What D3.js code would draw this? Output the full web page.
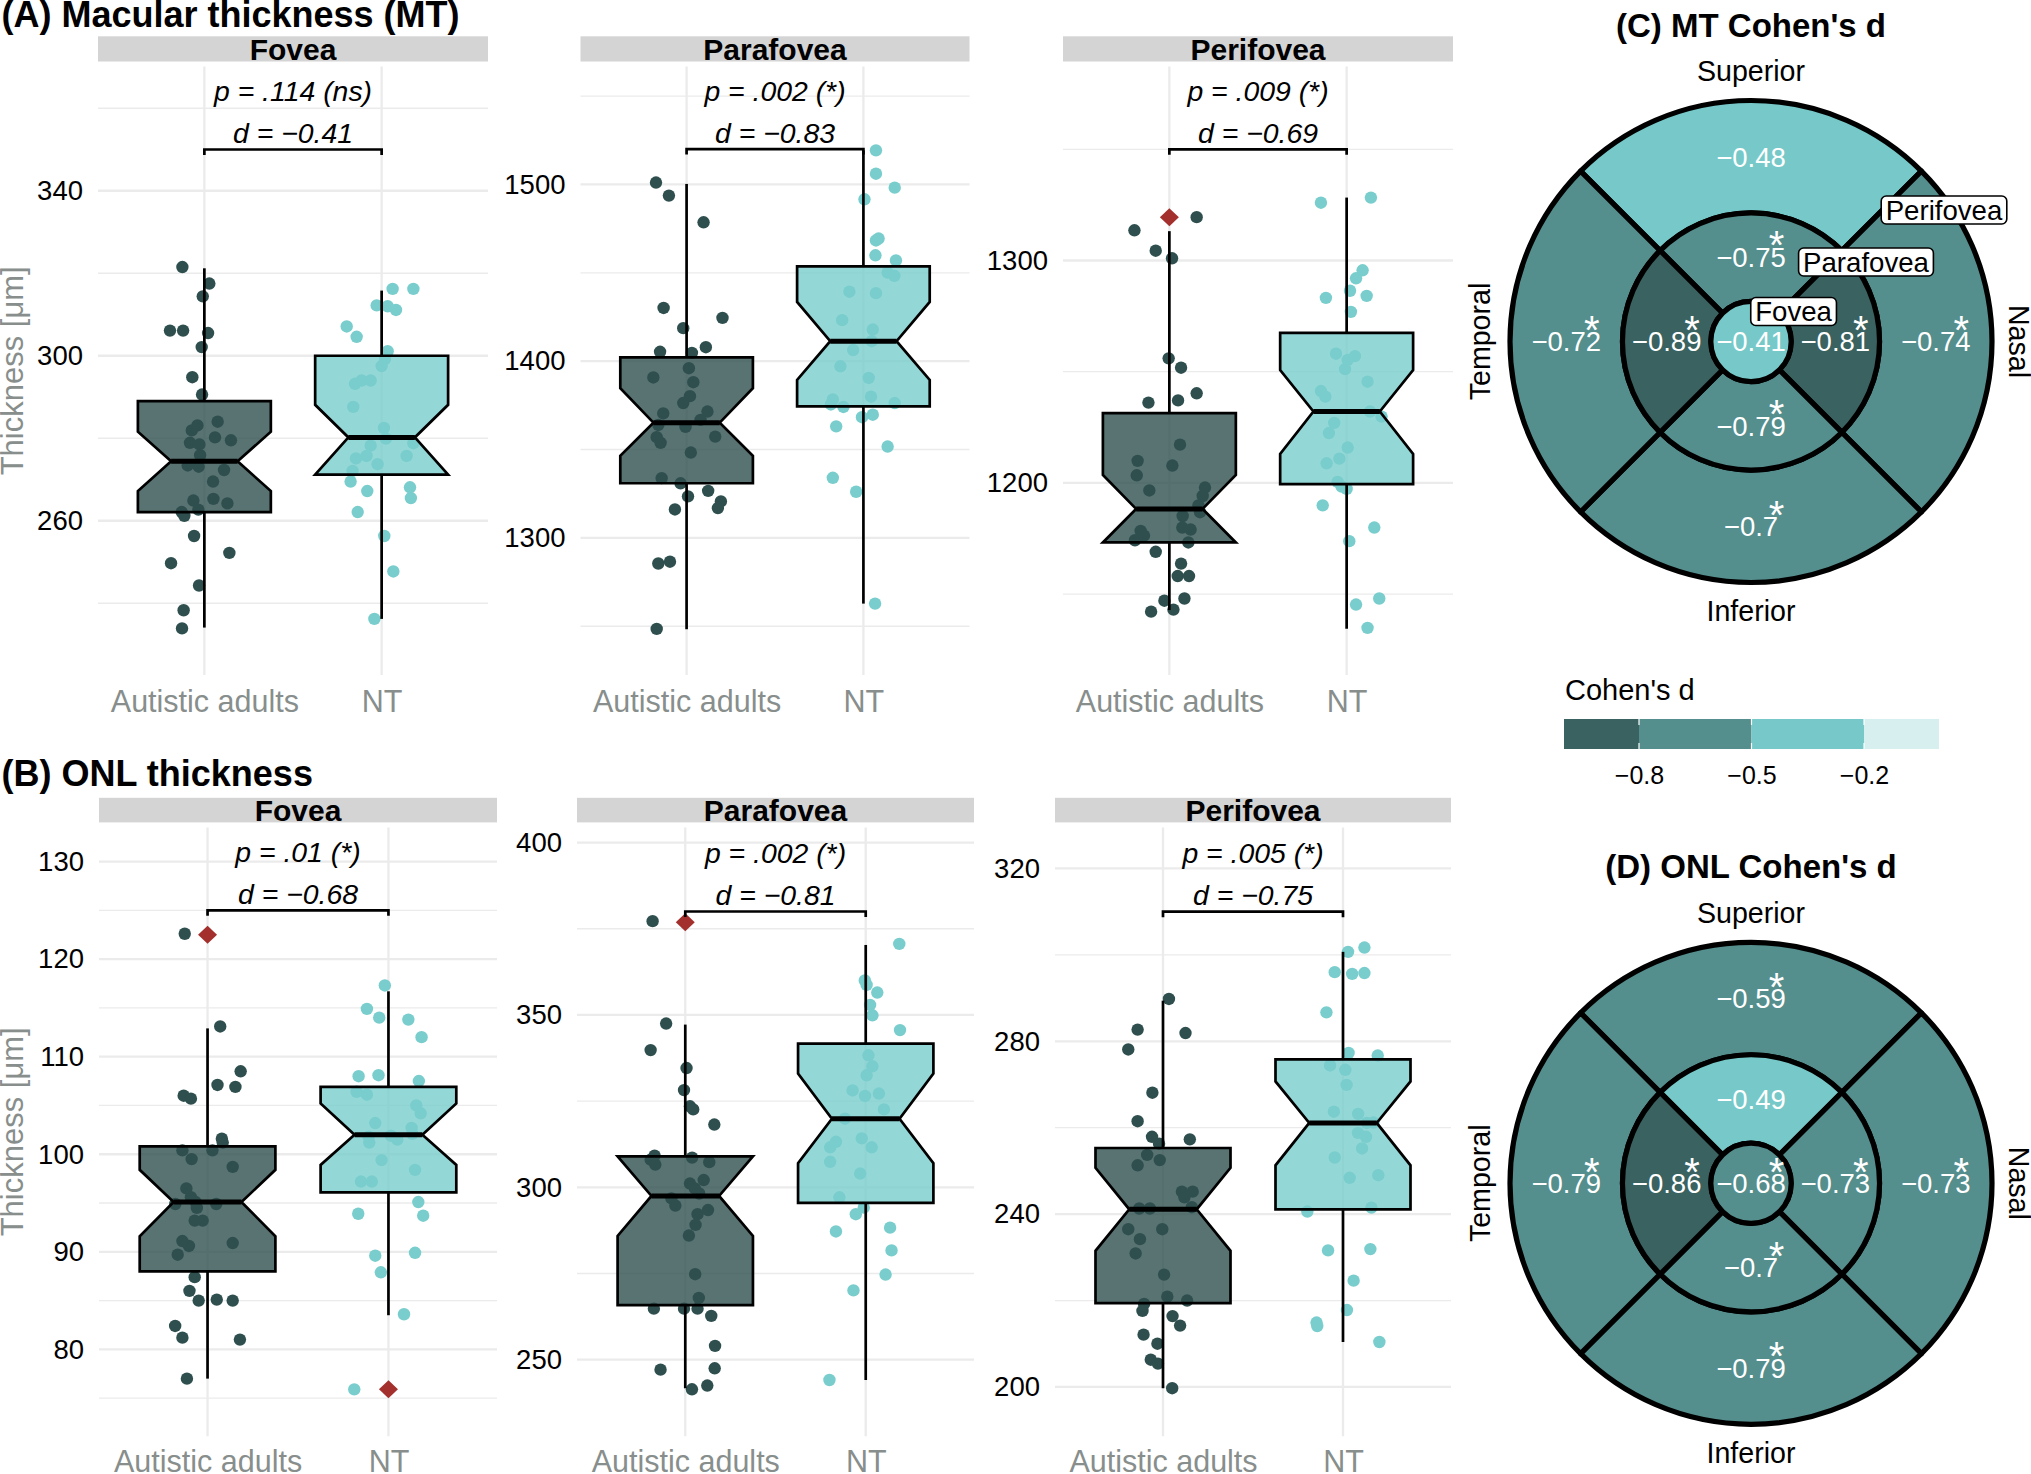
<!DOCTYPE html>
<html>
<head>
<meta charset="utf-8">
<script src="https://cdn.jsdelivr.net/npm/d3@7"></script>
<style>
  body { margin: 0; background: #fff; }
  svg { display: block; }
</style>
</head>
<body>
<div id="chart"></div>
<script>
const W = 2031, H = 1474;
const FONT = '"Liberation Sans", Arial, Helvetica, sans-serif';

const groups = ["Autistic adults", "NT"];
const groupColor = ["#2F4F4F", "#79CDCD"];
const outlierColor = "#A3302D";

// ---------- (A) Macular thickness ----------
// Fovea
const mtFovLim = [222.6, 370.1];
const mtFovMajor = [260, 300, 340];
const mtFovMinor = [240, 280, 320, 360];
const mtFovAut = [321.5,317.5,314.4,306.1,306.1,305.5,302.1,294.8,290.6,284.0,281.9,283.1,280.2,279.5,278.9,278.5,275.9,273.4,273.1,272.3,269.5,264.9,265.3,264.2,262.1,261.2,262.7,256.3,252.2,249.7,244.3,238.3,233.9];
const mtFovAutJit = [-0.124,0.028,-0.009,-0.194,-0.12,0.021,-0.015,-0.068,-0.013,0.075,-0.071,-0.039,0.06,0.15,-0.081,-0.028,-0.024,-0.094,-0.032,0.111,0.049,-0.062,0.051,0.13,-0.128,-0.113,-0.034,-0.058,0.141,-0.188,-0.03,-0.117,-0.126];
const mtFovNT = [316.2,316.2,312.2,312.0,311.1,307.1,304.6,301.1,299.2,297.5,293.2,294.0,294.0,287.6,282.5,279.9,278.8,278.2,275.1,275.7,275.7,273.7,272.1,269.5,268.1,265.5,267.2,262.1,256.3,247.7,236.2];
const mtFovNTJit = [0.062,0.179,-0.028,0.034,0.081,-0.197,-0.141,0.034,0.019,0,-0.15,-0.113,-0.062,-0.16,0.013,0.024,0.179,-0.062,-0.145,-0.085,0.141,-0.023,-0.164,-0.175,0.16,0.165,-0.081,-0.135,0.015,0.066,-0.041];
// box stats: whisker low, q1, notch low, median, notch high, q3, whisker high
const mtFovBox = [[234.1,262.1,267.2,274.4,281.6,289.0,321.2],[236.2,271.2,271.2,280.2,288.1,300.0,315.8]];
const mtFovOut = [[], []];

// Parafovea
const mtParaLim = [1222.4, 1566.7];
const mtParaMajor = [1300, 1400, 1500];
const mtParaMinor = [1250, 1350, 1450, 1550];
const mtParaAut = [1501.1,1493.7,1478.6,1430.1,1424.5,1418.7,1405.3,1404.7,1407.9,1396.0,1390.8,1388.1,1380.2,1376.3,1370.4,1371.5,1366.8,1363.9,1362.8,1357.0,1353.8,1357.3,1348.3,1333.8,1330.9,1323.5,1326.6,1320.6,1316.9,1316.1,1285.5,1286.5,1248.5];
const mtParaAutJit = [-0.173,-0.1,0.096,-0.13,0.203,-0.019,-0.15,0.03,0.109,0.013,-0.188,0.038,0.019,-0.019,-0.132,0.118,0.079,-0.16,-0.006,-0.169,-0.147,0.162,0.024,-0.141,-0.034,0.008,0.122,0.194,0.177,-0.066,-0.16,-0.094,-0.169];
const mtParaNT = [1519.3,1506.1,1498.2,1491.6,1468.3,1469.4,1459.9,1457.0,1450.1,1448.3,1439.3,1438.5,1423.2,1417.9,1411.3,1406.3,1397.1,1390.5,1378.4,1375.5,1374.1,1379.9,1376.3,1368.3,1369.7,1363.1,1351.7,1334.0,1326.1,1262.8];
const mtParaNTJit = [0.071,0.071,0.177,0.006,0.071,0.086,0.068,0.184,0.137,0.175,-0.079,0.071,-0.12,0.053,0.047,-0.058,-0.13,0.03,-0.173,-0.184,-0.113,0.043,0.177,-0.008,0.053,-0.154,0.137,-0.173,-0.041,0.066];
const mtParaBox = [[1248.3,1330.9,1346.4,1365.2,1384.7,1402.1,1500.3],[1262.8,1374.4,1389.4,1411.3,1433.5,1453.6,1519.3]];
const mtParaOut = [[], []];

// Perifovea
const mtPeriLim = [1113.6, 1387.2];
const mtPeriMajor = [1200, 1300];
const mtPeriMinor = [1150, 1250, 1350];
const mtPeriAut = [1319.5,1313.6,1304.4,1301.0,1256.0,1251.8,1240.3,1236.1,1237.1,1217.2,1209.9,1207.8,1203.4,1196.6,1197.9,1194.1,1189.9,1186.8,1185.1,1178.4,1176.3,1179.9,1179.0,1174.2,1173.2,1169.0,1163.7,1158.1,1158.1,1148.0,1147.0,1143.0,1142.1];
const mtPeriAutJit = [0.154,-0.197,-0.077,0.015,-0.004,0.066,0.154,-0.118,0.049,0.06,-0.179,0.017,-0.184,-0.113,0.201,0.188,0.164,0.173,0.075,-0.162,-0.143,0.073,0.12,-0.194,0.107,-0.077,0.066,0.047,0.111,0.085,-0.028,0.023,-0.103];
const mtPeriNT = [1326.0,1328.3,1295.6,1292.0,1286.4,1284.1,1283.2,1276.9,1258.1,1257.0,1255.3,1251.2,1245.5,1241.3,1238.8,1232.1,1229.8,1227.0,1222.4,1215.9,1210.9,1208.8,1200.4,1198.3,1197.3,1189.9,1179.9,1173.8,1145.3,1148.0,1134.8];
const mtPeriNTJit = [-0.145,0.137,0.09,0.053,0.019,0.113,-0.117,0.024,-0.06,0.047,0.006,-0.009,0.118,-0.145,-0.12,0.132,0.197,-0.07,-0.1,0.006,-0.041,-0.113,-0.051,-0.028,0,-0.135,0.156,0.015,0.053,0.184,0.118];
const mtPeriBox = [[1142.8,1173.2,1173.2,1188.3,1203.6,1231.4,1313.2],[1134.4,1199.4,1213.0,1232.1,1250.7,1267.5,1328.3]];
const mtPeriOut = [[1319.5], []];

const mtBracket = [350, 1520, 1350];
const mtP = [".114 (ns)", ".002 (*)", ".009 (*)"];
const mtD = ["\u22120.41", "\u22120.83", "\u22120.69"];

// ---------- (B) ONL thickness ----------
const onlFovLim = [71.1, 133.5];
const onlFovMajor = [80, 90, 100, 110, 120, 130];
const onlFovMinor = [75, 85, 95, 105, 115, 125];
const onlFovAut = [122.6,113.1,108.5,107.1,106.9,106.0,105.7,101.6,101.2,100.4,100.4,99.5,98.7,96.5,95.6,94.9,94.9,95.1,94.5,93.2,93.2,91.1,90.6,90.9,89.7,87.4,86.0,85.0,85.1,85.0,82.4,81.2,81.0,77.0];
const onlFovAutJit = [-0.126,0.07,0.183,0.055,0.154,-0.132,-0.092,0.079,0.084,-0.139,0.027,-0.088,0.139,-0.117,-0.092,-0.178,0.048,-0.066,-0.059,-0.071,-0.027,-0.139,-0.103,0.139,-0.165,-0.071,-0.1,-0.049,0.051,0.139,-0.179,-0.139,0.179,-0.114];
const onlFovNT = [117.3,114.9,114.0,113.8,112.0,108.0,108.1,107.5,106.4,106.1,105.0,104.2,103.2,102.7,101.8,101.9,101.5,102.1,101.2,99.4,98.4,97.2,97.2,95.1,93.9,93.7,89.6,89.9,87.9,83.6,75.9];
const onlFovNTJit = [-0.02,-0.119,-0.051,0.11,0.183,-0.165,-0.055,0.168,-0.176,-0.119,0.154,0.178,-0.073,0.128,-0.11,0.013,0.049,0.132,-0.106,-0.038,0.147,-0.152,-0.092,0.165,-0.167,0.192,-0.073,0.147,-0.042,0.086,-0.189];
const onlFovBox = [[77.0,88.0,91.6,95.1,98.4,100.8,112.9],[83.5,96.1,98.9,102.0,105.2,106.9,116.7]];
const onlFovOut = [[122.5], [75.9]];

const onlParaLim = [227.8, 404.4];
const onlParaMajor = [250, 300, 350, 400];
const onlParaMinor = [275, 325, 375];
const onlParaAut = [377.2,347.5,339.8,334.6,328.2,323.5,322.6,318.2,309.2,308.0,306.6,308.6,307.3,302.1,301.1,299.7,298.2,296.8,294.7,293.4,292.2,289.1,286.0,274.8,267.9,264.8,264.8,264.8,262.7,254.0,247.1,247.5,241.4,242.5];
const onlParaAutJit = [-0.181,-0.106,-0.192,0.007,-0.007,0.026,0.044,0.161,-0.17,-0.192,-0.166,0.038,0.133,0.102,0.026,0.053,0.077,-0.077,-0.055,0.126,0.068,0.057,0.02,0.055,0.075,-0.174,-0.007,0.068,0.144,0.165,-0.137,0.163,0.037,0.122];
const onlParaNT = [370.6,360.0,358.7,356.5,352.9,349.9,345.6,338.3,335.1,332.5,328.1,326.5,327.2,322.6,319.9,314.2,313.2,311.6,311.6,307.4,304.0,297.1,294.1,292.2,287.2,288.3,281.7,274.7,270.1,244.1];
const onlParaNTJit = [0.186,-0.005,0.005,0.064,0.024,0.037,0.19,0.015,0.037,0.005,-0.073,-0.004,0.073,0.101,-0.115,-0.022,-0.165,0.033,-0.197,-0.197,-0.031,-0.146,-0.011,-0.055,-0.165,0.135,0.143,0.11,-0.068,-0.201];
const onlParaBox = [[241.7,265.8,285.9,297.5,309.0,309.0,347.2],[244.1,295.5,307.0,319.9,333.0,341.7,370.3]];
const onlParaOut = [[376.9], []];

const onlPeriLim = [188.6, 329.5];
const onlPeriMajor = [200, 240, 280, 320];
const onlPeriMinor = [220, 260, 300];
const onlPeriAut = [289.8,282.7,281.9,278.1,268.1,261.5,257.9,256.3,257.3,253.7,252.5,251.3,245.2,245.2,243.9,241.3,241.3,241.6,236.5,236.5,234.2,230.9,226.0,220.9,220.0,219.2,217.6,216.4,214.2,212.1,210.0,206.3,205.4,199.7];
const onlPeriAutJit = [0.033,-0.141,0.125,-0.193,-0.059,-0.141,-0.061,-0.022,0.149,-0.088,-0.018,-0.141,0.105,0.165,0.119,-0.132,-0.073,0.16,-0.193,-0.004,-0.128,-0.152,0.006,0.024,0.134,-0.105,-0.114,0.053,0.095,-0.108,-0.031,-0.068,-0.028,0.051];
const onlPeriNT = [300.7,301.7,296.0,295.6,295.8,286.7,277.3,276.7,274.4,273.4,269.9,263.7,263.2,261.2,261.1,258.8,257.9,255.2,253.1,248.4,249.0,240.6,241.5,231.6,231.9,224.6,217.8,214.9,214.1,210.4];
const onlPeriNTJit = [0.028,0.119,-0.046,0.051,0.119,-0.092,0.031,0.193,-0.072,0.013,0.02,-0.051,0.084,0.169,0.132,0.083,0.128,0.106,-0.046,0.037,0.196,-0.198,0.158,-0.083,0.152,0.059,0.022,-0.147,-0.143,0.202];
const onlPeriBox = [[199.7,219.4,231.5,241.1,250.7,255.3,289.4],[210.4,241.1,251.3,261.1,270.7,275.8,300.7]];
const onlPeriOut = [[], []];

const onlBracket = [125, 380, 310];
const onlP = [".01 (*)", ".002 (*)", ".005 (*)"];
const onlD = ["\u22120.68", "\u22120.81", "\u22120.75"];

// ---------- Cohen's d maps ----------
const sectors = ["Superior", "Nasal", "Inferior", "Temporal"];
const mtFoveaD = -0.41, mtFoveaSig = false;
const mtParaD = [-0.75, -0.81, -0.79, -0.89];
const mtParaSig = [true, true, true, true];
const mtPeriD = [-0.48, -0.74, -0.70, -0.72];
const mtPeriSig = [false, true, true, true];
const onlFoveaD = -0.68, onlFoveaSig = true;
const onlParaD = [-0.49, -0.73, -0.70, -0.86];
const onlParaSig = [false, true, true, true];
const onlPeriD = [-0.59, -0.73, -0.79, -0.79];
const onlPeriSig = [true, true, true, true];

const dBreaks = [-0.8, -0.5, -0.2];
const dColors = ["#3A6260", "#548E8D", "#76C9C8", "#D7EFEF"];
const dLimits = [-1, 0];
const ringMM = [0.5, 1.6, 3];   // ring boundaries (mm)

// ---------- layout ----------
const rows = [
  {top: 66.6, bottom: 675, title: "(A) Macular thickness (MT)", titleY: 27,
   stripTop: 36.3, stripBottom: 61.5, labelY: 712,
   cols: [[98, 488], [580.5, 969.5], [1063, 1453]]},
  {top: 827.4, bottom: 1436.2, title: "(B) ONL thickness", titleY: 786.4,
   stripTop: 797.8, stripBottom: 822.4, labelY: 1472,
   cols: [[99, 497], [577, 974], [1055, 1451]]}
];

const panels = [
  {row: 0, col: 0, name: "Fovea", lim: mtFovLim, major: mtFovMajor, minor: mtFovMinor,
   vals: [mtFovAut, mtFovNT], jit: [mtFovAutJit, mtFovNTJit], box: mtFovBox, out: mtFovOut,
   bracket: mtBracket[0], p: mtP[0], d: mtD[0]},
  {row: 0, col: 1, name: "Parafovea", lim: mtParaLim, major: mtParaMajor, minor: mtParaMinor,
   vals: [mtParaAut, mtParaNT], jit: [mtParaAutJit, mtParaNTJit], box: mtParaBox, out: mtParaOut,
   bracket: mtBracket[1], p: mtP[1], d: mtD[1]},
  {row: 0, col: 2, name: "Perifovea", lim: mtPeriLim, major: mtPeriMajor, minor: mtPeriMinor,
   vals: [mtPeriAut, mtPeriNT], jit: [mtPeriAutJit, mtPeriNTJit], box: mtPeriBox, out: mtPeriOut,
   bracket: mtBracket[2], p: mtP[2], d: mtD[2]},
  {row: 1, col: 0, name: "Fovea", lim: onlFovLim, major: onlFovMajor, minor: onlFovMinor,
   vals: [onlFovAut, onlFovNT], jit: [onlFovAutJit, onlFovNTJit], box: onlFovBox, out: onlFovOut,
   bracket: onlBracket[0], p: onlP[0], d: onlD[0]},
  {row: 1, col: 1, name: "Parafovea", lim: onlParaLim, major: onlParaMajor, minor: onlParaMinor,
   vals: [onlParaAut, onlParaNT], jit: [onlParaAutJit, onlParaNTJit], box: onlParaBox, out: onlParaOut,
   bracket: onlBracket[1], p: onlP[1], d: onlD[1]},
  {row: 1, col: 2, name: "Perifovea", lim: onlPeriLim, major: onlPeriMajor, minor: onlPeriMinor,
   vals: [onlPeriAut, onlPeriNT], jit: [onlPeriAutJit, onlPeriNTJit], box: onlPeriBox, out: onlPeriOut,
   bracket: onlBracket[2], p: onlP[2], d: onlD[2]}
];

const svg = d3.select("#chart").append("svg")
  .attr("width", W).attr("height", H)
  .attr("font-family", FONT);

svg.append("rect").attr("width", W).attr("height", H).attr("fill", "#fff");

// row titles
rows.forEach(r => {
  svg.append("text").attr("x", 1.5).attr("y", r.titleY)
    .attr("font-size", 36).attr("font-weight", "bold").text(r.title);
});

function drawPanel(pn) {
  const row = rows[pn.row];
  const [left, right] = row.cols[pn.col];
  const top = row.top, bottom = row.bottom;
  const x = d3.scalePoint().domain(groups).range([left, right]).padding(0.6);
  const y = d3.scaleLinear().domain(pn.lim).range([bottom, top]);
  const step = x.step();
  const g = svg.append("g");

  // grid
  g.selectAll("line.minor").data(pn.minor).join("line").attr("class", "minor")
    .attr("x1", left).attr("x2", right).attr("y1", d => y(d)).attr("y2", d => y(d))
    .attr("stroke", "#ebebeb").attr("stroke-width", 1.3);
  g.selectAll("line.major").data(pn.major).join("line").attr("class", "major")
    .attr("x1", left).attr("x2", right).attr("y1", d => y(d)).attr("y2", d => y(d))
    .attr("stroke", "#ebebeb").attr("stroke-width", 2.3);
  g.selectAll("line.vgrid").data(groups).join("line").attr("class", "vgrid")
    .attr("x1", d => x(d)).attr("x2", d => x(d)).attr("y1", top).attr("y2", bottom)
    .attr("stroke", "#ebebeb").attr("stroke-width", 2.3);

  // facet strip
  g.append("rect").attr("x", left).attr("y", row.stripTop)
    .attr("width", right - left).attr("height", row.stripBottom - row.stripTop)
    .attr("fill", "#d4d4d4");
  g.append("text").attr("x", (left + right) / 2).attr("y", row.stripBottom - 1.5)
    .attr("text-anchor", "middle").attr("font-size", 30).attr("font-weight", "bold")
    .text(pn.name);

  // axes
  const ya = g.append("g").attr("transform", `translate(${left},0)`)
    .call(d3.axisLeft(y).tickValues(pn.major).tickSize(0).tickPadding(15).tickFormat(d3.format("d")));
  ya.select(".domain").remove();
  ya.attr("font-family", FONT).attr("font-size", 27.5);
  ya.selectAll("text").attr("fill", "#000");

  const xa = g.append("g").attr("transform", `translate(0,${bottom})`)
    .call(d3.axisBottom(x).tickSize(0).tickPadding(row.labelY - bottom - 0.71 * 30.5));
  xa.select(".domain").remove();
  xa.attr("font-family", FONT).attr("font-size", 30.5);
  xa.selectAll("text").attr("fill", "#878e8c");

  if (pn.col === 0) {
    g.append("text")
      .attr("transform", `translate(23,${(top + bottom) / 2}) rotate(-90)`)
      .attr("text-anchor", "middle").attr("font-size", 31).attr("fill", "#878e8c")
      .text("Thickness [\u03bcm]");
  }

  // jittered points
  groups.forEach((grp, i) => {
    const cx = x(grp);
    g.append("g").selectAll("circle").data(d3.zip(pn.jit[i], pn.vals[i])).join("circle")
      .attr("cx", d => cx + d[0] * step).attr("cy", d => y(d[1]))
      .attr("r", 6.2).attr("fill", groupColor[i]);
  });

  // notched boxplots
  const line = d3.line().x(d => d[0]).y(d => y(d[1]));
  groups.forEach((grp, i) => {
    const [lo, q1, nlo, med, nhi, q3, hi] = pn.box[i];
    const cx = x(grp), bw = 0.75 * step;
    const x0 = cx - bw / 2, x1 = cx + bw / 2, ind = bw * 0.25;
    const bg = g.append("g");
    bg.append("line").attr("x1", cx).attr("x2", cx).attr("y1", y(q3)).attr("y2", y(hi))
      .attr("stroke", "#000").attr("stroke-width", 2.7);
    bg.append("line").attr("x1", cx).attr("x2", cx).attr("y1", y(q1)).attr("y2", y(lo))
      .attr("stroke", "#000").attr("stroke-width", 2.7);
    const pts = [[x0, q3], [x0, nhi], [x0 + ind, med], [x0, nlo], [x0, q1],
                 [x1, q1], [x1, nlo], [x1 - ind, med], [x1, nhi], [x1, q3]];
    bg.append("path").attr("d", line(pts) + "Z")
      .attr("fill", groupColor[i]).attr("fill-opacity", 0.8)
      .attr("stroke", "#000").attr("stroke-width", 2.7).attr("stroke-linejoin", "miter");
    bg.append("line").attr("x1", x0 + ind).attr("x2", x1 - ind).attr("y1", y(med)).attr("y2", y(med))
      .attr("stroke", "#000").attr("stroke-width", 5);
    bg.selectAll("path.out").data(pn.out[i]).join("path").attr("class", "out")
      .attr("d", d => `M${cx},${y(d) - 9}L${cx + 9.5},${y(d)}L${cx},${y(d) + 9}L${cx - 9.5},${y(d)}Z`)
      .attr("fill", outlierColor);
  });

  // significance bracket
  const bx0 = x(groups[0]), bx1 = x(groups[1]), by = y(pn.bracket);
  g.append("path").attr("d", `M${bx0},${by + 5.5}V${by}H${bx1}V${by + 5.5}`)
    .attr("fill", "none").attr("stroke", "#000").attr("stroke-width", 2.7);
  g.append("text").attr("x", (bx0 + bx1) / 2).attr("y", by - 48.5)
    .attr("text-anchor", "middle").attr("font-size", 28.4).attr("font-style", "italic")
    .text("p = " + pn.p);
  g.append("text").attr("x", (bx0 + bx1) / 2).attr("y", by - 6.5)
    .attr("text-anchor", "middle").attr("font-size", 28.4).attr("font-style", "italic")
    .text("d = " + pn.d);
}

panels.forEach(drawPanel);

// ---------- Cohen's d maps ----------
const dColor = d3.scaleThreshold().domain(dBreaks).range(dColors);
const fmtD = v => String(v).replace("-", "\u2212");

function drawEye(cx, cy, title, fovD, fovSig, paraD, paraSig, periD, periSig, showRegionLabels) {
  const r = d3.scaleLinear().domain([0, 3]).range([0, 241]);
  const g = svg.append("g");
  const arc = d3.arc();
  const angle0 = [-Math.PI / 4, Math.PI / 4, 3 * Math.PI / 4, 5 * Math.PI / 4];

  g.append("text").attr("x", cx).attr("y", cy - 305).attr("text-anchor", "middle")
    .attr("font-size", 33).attr("font-weight", "bold").text(title);
  g.append("text").attr("x", cx).attr("y", cy - 260.5).attr("text-anchor", "middle")
    .attr("font-size", 28.6).text("Superior");
  g.append("text").attr("x", cx).attr("y", cy + 279.2).attr("text-anchor", "middle")
    .attr("font-size", 28.6).text("Inferior");
  g.append("text").attr("transform", `translate(${cx - 261},${cy}) rotate(-90)`)
    .attr("text-anchor", "middle").attr("font-size", 28.6).text("Temporal");
  g.append("text").attr("transform", `translate(${cx + 258},${cy}) rotate(90)`)
    .attr("text-anchor", "middle").attr("font-size", 28.6).text("Nasal");

  const rings = [
    {inner: ringMM[1], outer: ringMM[2], vals: periD, sig: periSig},
    {inner: ringMM[0], outer: ringMM[1], vals: paraD, sig: paraSig}
  ];
  const labels = [];
  rings.forEach(ring => {
    sectors.forEach((s, k) => {
      g.append("path")
        .attr("transform", `translate(${cx},${cy})`)
        .attr("d", arc({innerRadius: r(ring.inner), outerRadius: r(ring.outer),
                        startAngle: angle0[k], endAngle: angle0[k] + Math.PI / 2}))
        .attr("fill", dColor(ring.vals[k])).attr("stroke", "#000").attr("stroke-width", 5.2)
        .attr("stroke-linejoin", "round");
      const a = angle0[k] + Math.PI / 4, rm = r((ring.inner + ring.outer) / 2);
      labels.push({x: cx + rm * Math.sin(a), y: cy - rm * Math.cos(a), v: ring.vals[k], sig: ring.sig[k]});
    });
  });
  g.append("circle").attr("cx", cx).attr("cy", cy).attr("r", r(ringMM[0]))
    .attr("fill", dColor(fovD)).attr("stroke", "#000").attr("stroke-width", 5.2);
  labels.push({x: cx, y: cy, v: fovD, sig: fovSig});

  labels.forEach(l => {
    g.append("text").attr("x", l.x).attr("y", l.y + 9.8).attr("text-anchor", "middle")
      .attr("font-size", 27.5).attr("fill", "#fff").text(fmtD(l.v));
    if (l.sig) {
      g.append("text").attr("x", l.x + 25.5).attr("y", l.y - 20.7 + 23).attr("text-anchor", "middle")
        .attr("font-size", 40).attr("fill", "#fff").text("*");
    }
  });

  if (showRegionLabels) {
    const regionLabels = [["Perifovea", 193, -131.5], ["Parafovea", 115, -79.5], ["Fovea", 42.6, -30]];
    regionLabels.forEach(([name, dx, dy]) => {
      const lg = g.append("g");
      const t = lg.append("text").attr("x", cx + dx).attr("y", cy + dy + 9.8)
        .attr("text-anchor", "middle").attr("font-size", 27.6).text(name);
      const w = t.node().getComputedTextLength();
      lg.insert("rect", "text").attr("x", cx + dx - w / 2 - 4.5).attr("y", cy + dy - 14)
        .attr("width", w + 9).attr("height", 28).attr("rx", 5)
        .attr("fill", "#fff").attr("stroke", "#000").attr("stroke-width", 1.6);
    });
  }
}

drawEye(1751, 341.5, "(C) MT Cohen's d", mtFoveaD, mtFoveaSig, mtParaD, mtParaSig, mtPeriD, mtPeriSig, true);
drawEye(1751, 1183.3, "(D) ONL Cohen's d", onlFoveaD, onlFoveaSig, onlParaD, onlParaSig, onlPeriD, onlPeriSig, false);

// ---------- legend ----------
const lx = d3.scaleLinear().domain(dLimits).range([1564, 1939]);
const lg = svg.append("g");
lg.append("text").attr("x", 1565).attr("y", 699.5).attr("font-size", 29).text("Cohen's d");
const edges = [dLimits[0], ...dBreaks, dLimits[1]];
lg.selectAll("rect.bin").data(d3.pairs(edges)).join("rect").attr("class", "bin")
  .attr("x", d => lx(d[0])).attr("width", d => lx(d[1]) - lx(d[0]))
  .attr("y", 719).attr("height", 30)
  .attr("fill", d => dColor((d[0] + d[1]) / 2));
dBreaks.forEach(b => {
  lg.append("line").attr("x1", lx(b)).attr("x2", lx(b)).attr("y1", 719).attr("y2", 725)
    .attr("stroke", "#fff").attr("stroke-width", 1.2);
  lg.append("line").attr("x1", lx(b)).attr("x2", lx(b)).attr("y1", 743).attr("y2", 749)
    .attr("stroke", "#fff").attr("stroke-width", 1.2);
});
const la = lg.append("g").attr("transform", "translate(0,749)")
  .call(d3.axisBottom(lx).tickValues(dBreaks).tickSize(0).tickPadding(17)
        .tickFormat(d => fmtD(d3.format(".1f")(d))));
la.select(".domain").remove();
la.attr("font-family", FONT).attr("font-size", 25);
la.selectAll("text").attr("fill", "#000");
</script>
</body>
</html>
